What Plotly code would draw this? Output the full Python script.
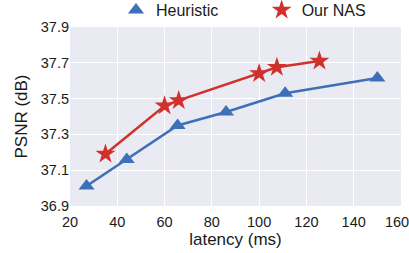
import plotly.graph_objects as go

heur_x = [27, 44, 65.5, 86, 111, 150]
heur_y = [37.012, 37.16, 37.35, 37.425, 37.53, 37.615]
nas_x = [35, 60, 66, 100, 107.5, 125.5]
nas_y = [37.19, 37.46, 37.49, 37.64, 37.675, 37.71]

x_ticks = [20, 40, 60, 80, 100, 120, 140, 160]
x_tick_text = ["20", "40", "60", "80", "100", "120", "140", "160&nbsp;&nbsp;"]
y_ticks = [36.9, 37.1, 37.3, 37.5, 37.7, 37.9]
y_tick_text = ["36.9", "37.1", "37.3", "37.5", "37.7", "37.9"]

blue = "#3D70B8"
red = "#D0312D"
font_family = "Liberation Sans, Arial, sans-serif"

fig = go.Figure()
fig.add_trace(go.Scatter(x=heur_x, y=heur_y, mode="lines+markers", name="Heuristic",
                         showlegend=False,
                         line=dict(color=blue, width=2.5),
                         marker=dict(symbol="triangle-up", size=14, color=blue)))
fig.add_trace(go.Scatter(x=nas_x, y=nas_y, mode="lines+markers", name="Our NAS",
                         showlegend=False,
                         line=dict(color=red, width=2.5),
                         marker=dict(symbol="star", size=15, color=red)))
# legend entries (marker only, as in the reference)
fig.add_trace(go.Scatter(x=[None], y=[None], mode="markers", name="Heuristic",
                         legend="legend",
                         marker=dict(symbol="triangle-up", size=14, color=blue)))
fig.add_trace(go.Scatter(x=[None], y=[None], mode="markers", name="Our NAS",
                         legend="legend2",
                         marker=dict(symbol="star", size=15, color=red)))

legend_common = dict(orientation="h", xanchor="left", y=1.0, yanchor="bottom",
                     font=dict(size=16), bgcolor="rgba(0,0,0,0)", itemwidth=30)

fig.update_layout(
    width=409, height=253,
    margin=dict(l=70, r=8, t=27, b=47, autoexpand=False),
    plot_bgcolor="#EAEAF2", paper_bgcolor="white",
    font=dict(family=font_family, size=14.5, color="#1a1a1a"),
    legend=dict(x=0.139, **legend_common),
    legend2=dict(x=0.579, **legend_common),
    xaxis=dict(range=[20, 160], tickvals=x_ticks, ticktext=x_tick_text,
               gridcolor="white", gridwidth=1.3, zeroline=False, showline=False,
               title=dict(text="latency (ms)", font=dict(size=17), standoff=4),
               ticks="", tickfont=dict(size=14.5), automargin=False,
               ticklabelstandoff=5, ticklabeloverflow="allow"),
    yaxis=dict(range=[36.9, 37.9], tickvals=y_ticks, ticktext=y_tick_text,
               gridcolor="white", gridwidth=1.3, zeroline=False, showline=False,
               title=dict(text="PSNR (dB)", font=dict(size=17), standoff=8),
               ticks="", tickfont=dict(size=14.5), automargin=False),
)

fig.write_html("out.html", config={"displayModeBar": False},
               post_script="document.body.style.margin='0';")
